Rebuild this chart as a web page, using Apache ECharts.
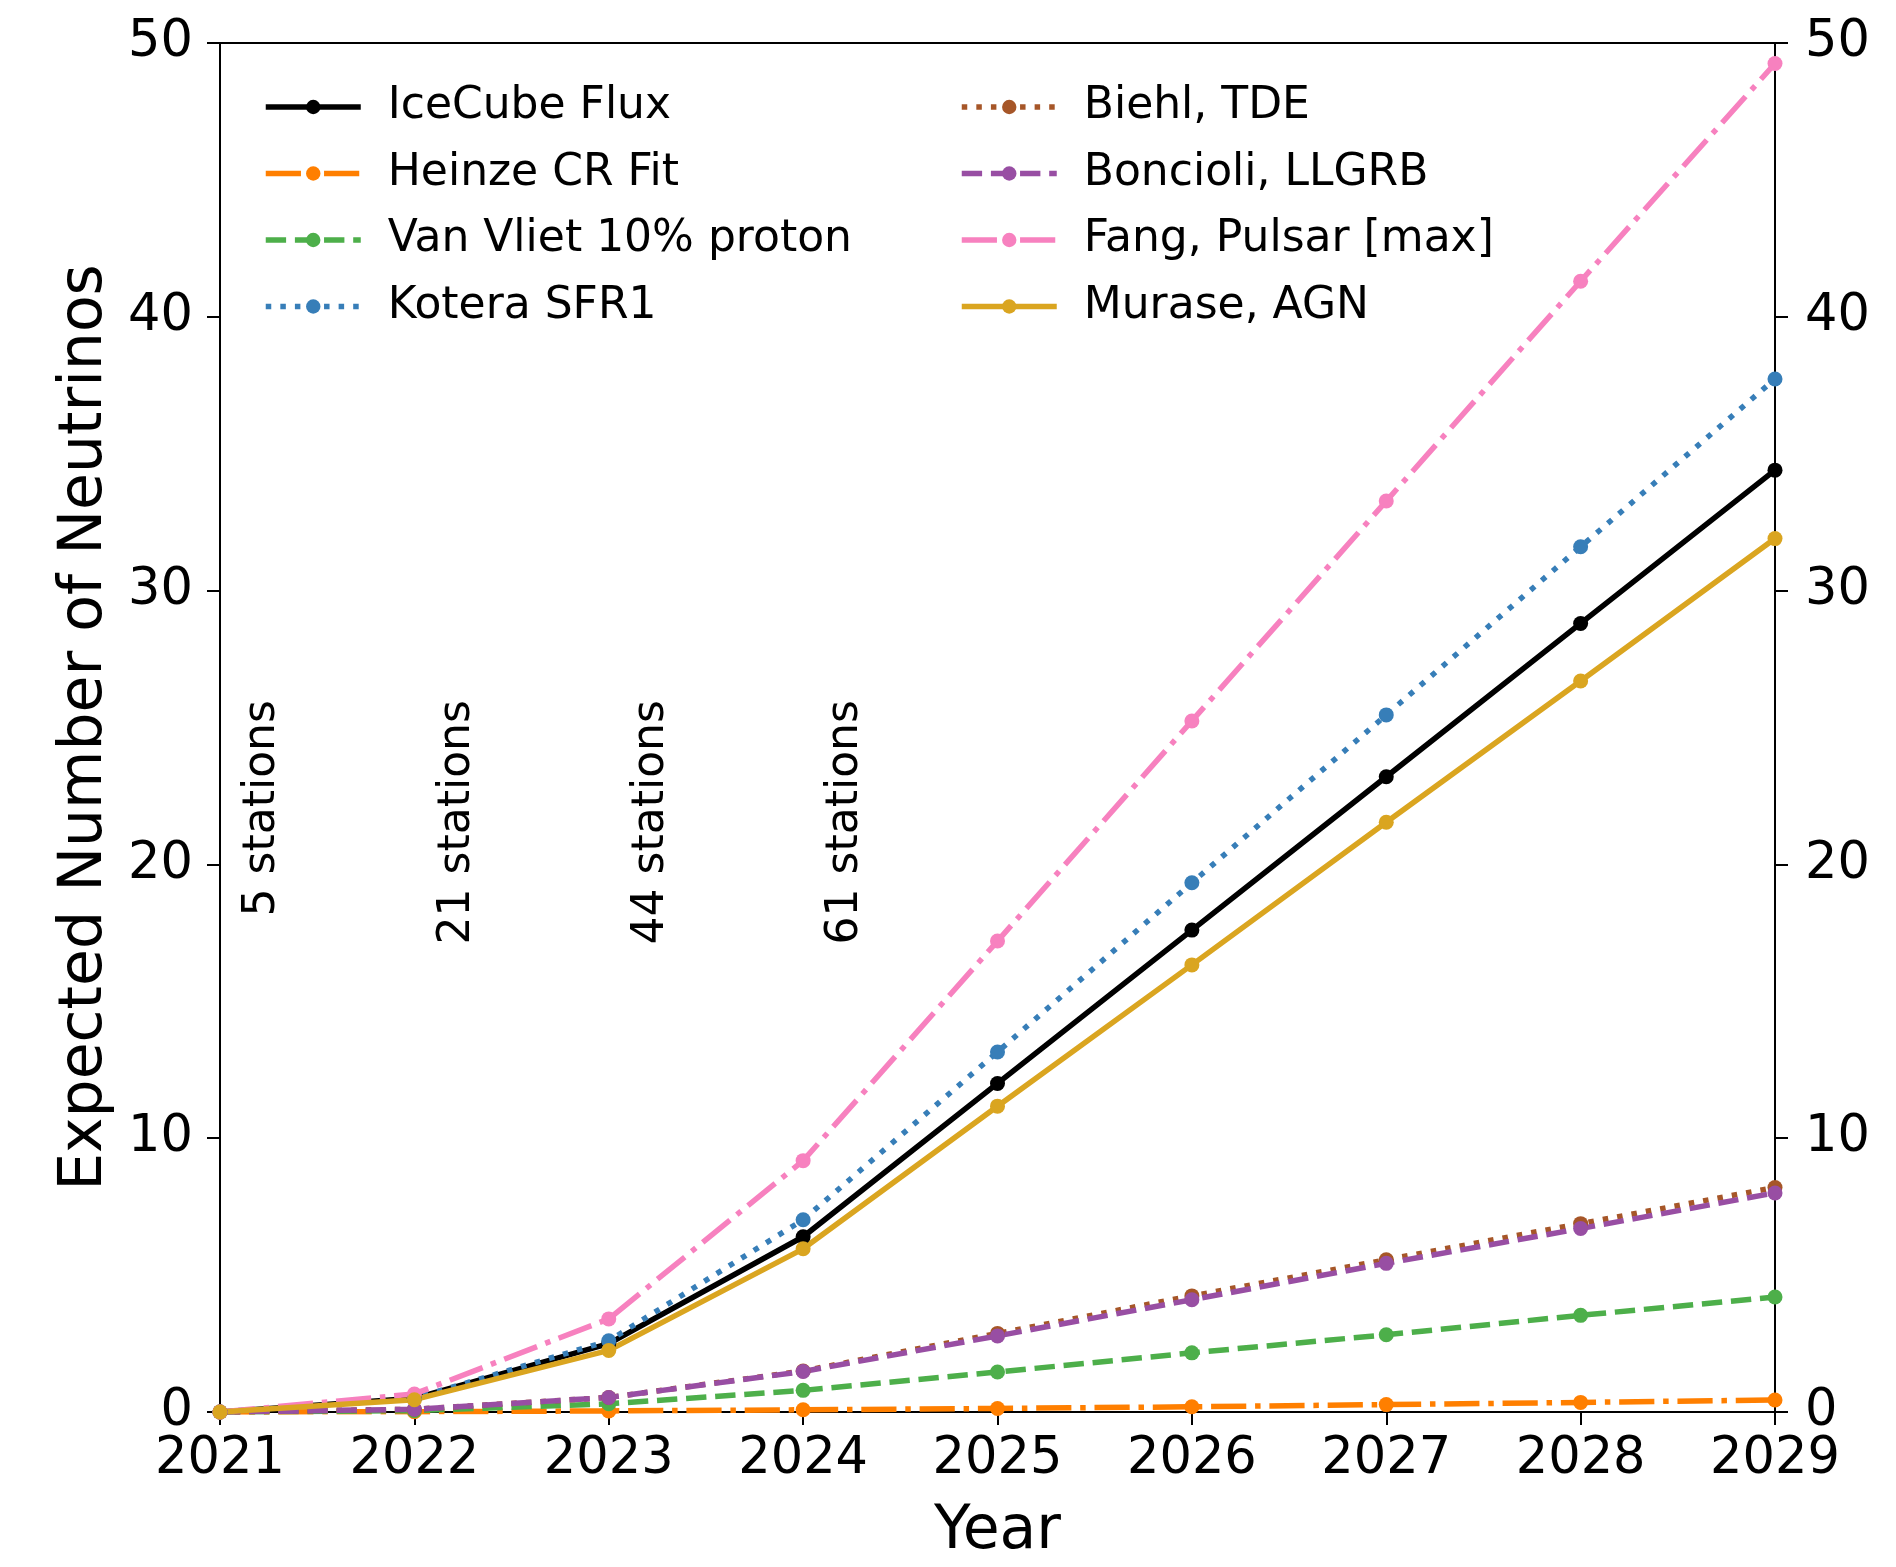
<!DOCTYPE html>
<html>
<head>
<meta charset="utf-8">
<title>Expected Number of Neutrinos</title>
<script src="https://cdn.jsdelivr.net/npm/echarts@6/dist/echarts.min.js"></script>
<style>
  html, body { margin: 0; padding: 0; background: #ffffff; overflow: hidden; }
  #chart { width: 1896px; height: 1567px; display: block; }
</style>
</head>
<body>
<div id="chart"></div>
<script>
// Years of operation
const years = [2021, 2022, 2023, 2024, 2025, 2026, 2027, 2028, 2029];

// Cumulative expected neutrino counts per flux model
const iceCubeFlux   = [0, 0.50, 2.50, 6.40, 12.00, 17.60, 23.20, 28.80, 34.40];
const heinzeCR      = [0, 0.01, 0.04, 0.08, 0.13, 0.19, 0.27, 0.35, 0.44];
const vanVliet      = [0, 0.05, 0.30, 0.79, 1.46, 2.16, 2.82, 3.53, 4.20];
const koteraSFR1    = [0, 0.50, 2.60, 7.02, 13.15, 19.33, 25.46, 31.60, 37.73];
const biehlTDE      = [0, 0.10, 0.53, 1.50, 2.87, 4.24, 5.56, 6.88, 8.20];
const bonciolLLGRB  = [0, 0.10, 0.53, 1.48, 2.78, 4.10, 5.43, 6.70, 8.00];
const fangPulsar    = [0, 0.66, 3.40, 9.18, 17.20, 25.24, 33.27, 41.30, 49.25];
const muraseAGN     = [0, 0.45, 2.25, 5.96, 11.17, 16.33, 21.54, 26.70, 31.90];

// Array build-out annotations
const stationLabels = ['5 stations', '21 stations', '44 stations', '61 stations'];
const stationX      = [2021.22, 2022.22, 2023.22, 2024.22];
const stationY      = 26.0;

const yTicks = { min: 0, max: 50, interval: 10 };

const FONT = '"DejaVu Sans", Verdana, sans-serif';
const LW = 5.5;
const dashed  = [3.7 * LW, 1.6 * LW];
const dotted  = [1 * LW, 1.65 * LW];
const dashDot = [6.4 * LW, 1.6 * LW, 1 * LW, 1.6 * LW];

const seriesDefs = [
  { name: 'IceCube Flux',          data: iceCubeFlux,  color: '#000000', dash: 'solid' },
  { name: 'Heinze CR Fit',         data: heinzeCR,     color: '#ff7f00', dash: dashDot },
  { name: 'Van Vliet 10% proton',  data: vanVliet,     color: '#4daf4a', dash: dashed },
  { name: 'Kotera SFR1',           data: koteraSFR1,   color: '#377eb8', dash: dotted },
  { name: 'Biehl, TDE',            data: biehlTDE,     color: '#a65628', dash: dotted },
  { name: 'Boncioli, LLGRB',       data: bonciolLLGRB, color: '#984ea3', dash: dashed },
  { name: 'Fang, Pulsar [max]',    data: fangPulsar,   color: '#f781bf', dash: dashDot },
  { name: 'Murase, AGN',           data: muraseAGN,    color: '#daa520', dash: 'solid' }
];

const lineSeries = seriesDefs.map(d => ({
  name: d.name,
  type: 'line',
  data: years.map((y, i) => [y, d.data[i]]),
  symbol: 'circle',
  symbolSize: 15,
  showSymbol: true,
  clip: true,
  itemStyle: { color: d.color },
  lineStyle: { color: d.color, width: LW, type: d.dash, cap: 'butt', join: 'round' },
  emphasis: { disabled: true },
  animation: false
}));

const stationSeries = {
  name: 'stations',
  type: 'scatter',
  symbolSize: 0,
  silent: true,
  itemStyle: { opacity: 1 },
  data: stationLabels.map((t, i) => ({ value: [stationX[i], stationY], label: { formatter: t } })),
  label: {
    show: true,
    position: [0, 0],
    rotate: 90,
    align: 'right',
    verticalAlign: 'middle',
    color: '#000',
    opacity: 1,
    fontFamily: FONT,
    fontSize: 44
  },
  animation: false
};

const legendBase = {
  orient: 'vertical',
  itemWidth: 95,
  itemHeight: 18,
  itemGap: 16.5,
  lineStyle: { width: LW },
  selectedMode: false,
  textStyle: { fontFamily: FONT, fontSize: 44, color: '#000', lineHeight: 50, padding: [0, 0, 0, 22] }
};

const option = {
  backgroundColor: '#ffffff',
  animation: false,
  grid: {
    left: 220, right: 121, top: 43, bottom: 154,
    show: true, borderColor: '#000', borderWidth: 2, backgroundColor: 'transparent'
  },
  legend: [
    Object.assign({}, legendBase, { left: 258, top: 77, data: seriesDefs.slice(0, 4).map(d => d.name) }),
    Object.assign({}, legendBase, { left: 954, top: 77, data: seriesDefs.slice(4).map(d => d.name) })
  ],
  xAxis: {
    type: 'value',
    min: 2021, max: 2029, interval: 1,
    name: 'Year',
    nameLocation: 'middle',
    nameGap: 90,
    nameTextStyle: { fontFamily: FONT, fontSize: 60, color: '#000' },
    axisLine: { show: true, lineStyle: { color: '#000', width: 2 } },
    axisTick: { show: true, inside: false, length: 13, lineStyle: { color: '#000', width: 2 } },
    axisLabel: { fontFamily: FONT, fontSize: 51, color: '#000', margin: 22, formatter: v => String(v) },
    splitLine: { show: false }
  },
  yAxis: [
    {
      type: 'value',
      position: 'left',
      min: yTicks.min, max: yTicks.max, interval: yTicks.interval,
      name: 'Expected Number of Neutrinos',
      nameLocation: 'middle',
      nameGap: 105,
      nameTextStyle: { fontFamily: FONT, fontSize: 60, color: '#000' },
      axisLine: { show: true, lineStyle: { color: '#000', width: 2 } },
      axisTick: { show: true, inside: false, length: 13, lineStyle: { color: '#000', width: 2 } },
      axisLabel: { fontFamily: FONT, fontSize: 51, color: '#000', margin: 27 },
      splitLine: { show: false }
    },
    {
      type: 'value',
      position: 'right',
      min: yTicks.min, max: yTicks.max, interval: yTicks.interval,
      axisLine: { show: true, lineStyle: { color: '#000', width: 2 } },
      axisTick: { show: true, inside: false, length: 13, lineStyle: { color: '#000', width: 2 } },
      axisLabel: { fontFamily: FONT, fontSize: 51, color: '#000', margin: 30 },
      splitLine: { show: false }
    }
  ],
  series: lineSeries.concat([stationSeries])
};

const chart = echarts.init(document.getElementById('chart'), null, { renderer: 'canvas' });
chart.setOption(option);
</script>
</body>
</html>
